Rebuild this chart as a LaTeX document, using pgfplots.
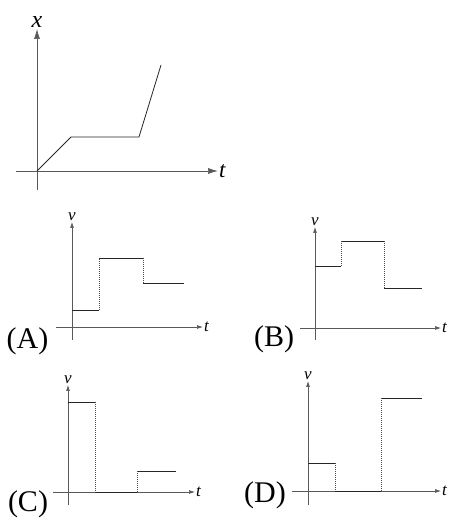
\documentclass[border=0pt]{standalone}
\usepackage{pgfplots}
\pgfplotsset{compat=1.18}
\usepackage{fontspec}
\setmainfont{Liberation Serif}[ItalicFont={Liberation Serif Italic}]
\usetikzlibrary{arrows.meta}
\pgfplotsset{
  phys/.style={axis lines=middle, x=1bp, y=1bp, anchor=origin,
    xtick=\empty, ytick=\empty, clip=false,
    axis line style={draw=black!65, line width=0.7bp, -{Latex[length=6bp,width=4bp]}}},
  seg/.style={line width=0.8bp, draw=black!85, mark=none},
  dot/.style={line width=0.7bp, draw=black!70, mark=none, dash pattern=on 1bp off 1bp},
}
\newcommand{\lab}[1]{{\fontsize{17bp}{19bp}\selectfont\textit{#1}}}
\newcommand{\panlab}[1]{{\fontsize{30bp}{32bp}\selectfont #1}}
\begin{document}
\begin{tikzpicture}[x=1bp,y=1bp]
\path[use as bounding box] (0,0) rectangle (458,519);
% top x-t graph
\begin{axis}[phys, at={(37,348)}, xmin=-21, xmax=181, ymin=-19, ymax=142,
  axis line style={-{Latex[length=10bp,width=6bp]}}]
\addplot[seg] coordinates {(0,0) (34,34) (102,34) (124,106)};
\node[anchor=west, inner sep=1bp] at (axis cs:181,0) {{\fontsize{23bp}{25bp}\selectfont\textit{t}}};
\node[anchor=south, inner sep=1bp] at (axis cs:0,142) {{\fontsize{24bp}{26bp}\selectfont\textit{x}}};
\end{axis}
% (A)
\begin{axis}[phys, at={(72,192)}, xmin=-16, xmax=131, ymin=-13, ymax=105]
\addplot[seg] coordinates {(0,17) (27,17)};
\addplot[seg] coordinates {(27,69) (71,69)};
\addplot[seg] coordinates {(71,44) (112,44)};
\addplot[dot] coordinates {(27,17) (27,69)};
\addplot[dot] coordinates {(71,69) (71,44)};
\node[anchor=west, inner sep=1bp] at (axis cs:131,0) {\lab{t}};
\node[anchor=south, inner sep=1bp] at (axis cs:0,105) {\lab{v}};
\end{axis}
% (B)
\begin{axis}[phys, at={(315,191)}, xmin=-15, xmax=126, ymin=-12, ymax=101]
\addplot[seg] coordinates {(0,62) (26,62)};
\addplot[seg] coordinates {(26,87) (69,87)};
\addplot[seg] coordinates {(69,40) (107,40)};
\addplot[dot] coordinates {(26,62) (26,87)};
\addplot[dot] coordinates {(69,87) (69,40)};
\node[anchor=west, inner sep=1bp] at (axis cs:126,0) {\lab{t}};
\node[anchor=south, inner sep=1bp] at (axis cs:0,101) {\lab{v}};
\end{axis}
% (C)
\begin{axis}[phys, at={(68,27)}, xmin=-15, xmax=127, ymin=-13, ymax=107]
\addplot[seg] coordinates {(0,90) (27,90)};
\addplot[seg] coordinates {(27,0) (69,0)};
\addplot[seg] coordinates {(69,21) (108,21)};
\addplot[dot] coordinates {(27,90) (27,0)};
\addplot[dot] coordinates {(69,0) (69,21)};
\node[anchor=west, inner sep=1bp] at (axis cs:127,0) {\lab{t}};
\node[anchor=south, inner sep=1bp] at (axis cs:0,107) {\lab{v}};
\end{axis}
% (D)
\begin{axis}[phys, at={(308,28)}, xmin=-16, xmax=133, ymin=-14, ymax=110]
\addplot[seg] coordinates {(0,28) (27,28)};
\addplot[seg] coordinates {(27,0) (73,0)};
\addplot[seg] coordinates {(73,93) (114,93)};
\addplot[dot] coordinates {(27,28) (27,0)};
\addplot[dot] coordinates {(73,0) (73,93)};
\node[anchor=west, inner sep=1bp] at (axis cs:133,0) {\lab{t}};
\node[anchor=south, inner sep=1bp] at (axis cs:0,110) {\lab{v}};
\end{axis}
\node at (27.5,178) {\panlab{(A)}};
\node at (274,180) {\panlab{(B)}};
\node at (28,15) {\panlab{(C)}};
\node at (265,24) {\panlab{(D)}};
\end{tikzpicture}
\end{document}
